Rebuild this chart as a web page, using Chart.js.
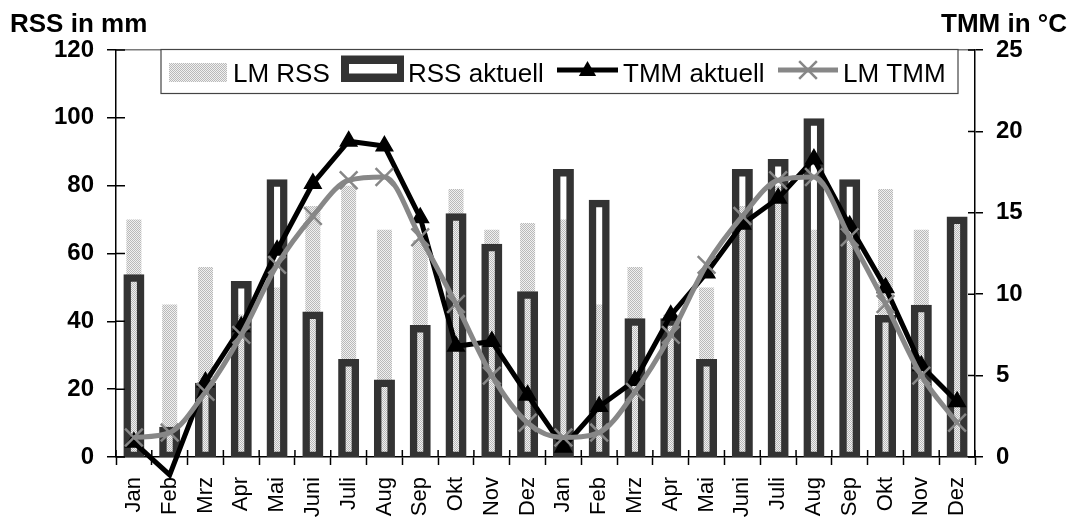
<!DOCTYPE html>
<html>
<head>
<meta charset="utf-8">
<script src="https://cdn.jsdelivr.net/npm/chart.js@4/dist/chart.umd.min.js"></script>
<style>
  html, body { margin: 0; padding: 0; background: #fff; }
  canvas { display: block; }
</style>
</head>
<body>
<canvas id="klima" width="1074" height="517"></canvas>
<script>
const monate = ['Jan', 'Feb', 'Mrz', 'Apr', 'Mai', 'Juni', 'Juli', 'Aug', 'Sep', 'Okt', 'Nov', 'Dez',
                'Jan', 'Feb', 'Mrz', 'Apr', 'Mai', 'Juni', 'Juli', 'Aug', 'Sep', 'Okt', 'Nov', 'Dez'];

// Niederschlag in mm
const lmRss      = [70, 45, 56, 42, 50, 74, 80, 67, 64, 79, 67, 69,
                    70, 45, 56, 42, 50, 74, 80, 67, 64, 79, 67, 69];
const rssAktuell = [53, 8, 21, 51, 81, 42, 28, 22, 38, 71, 62, 48,
                    84, 75, 40, 40, 28, 84, 87, 99, 81, 41, 44, 70];

// Temperatur in °C
const tmmAktuell = [0.9, -1.1, 4.6, 8.0, 12.7, 16.8, 19.4, 19.1, 14.7, 6.8, 7.1, 3.8,
                    0.6, 3.1, 4.7, 8.7, 11.3, 14.3, 15.9, 18.3, 14.2, 10.4, 5.6, 3.4];
const lmTmm      = [1.2, 1.5, 4.0, 7.5, 11.8, 14.8, 17.0, 17.2, 13.5, 9.4, 5.0, 2.1,
                    1.2, 1.5, 4.0, 7.5, 11.8, 14.8, 17.0, 17.2, 13.5, 9.4, 5.0, 2.1];

const schrift = '"Liberation Sans", Arial, sans-serif';
const grau = '#878787';
const rahmenFarbe = '#333333';

Chart.defaults.font.family = schrift;
Chart.defaults.color = '#000';

const canvas = document.getElementById('klima');
const ctx = canvas.getContext('2d');

// fein gepunktetes Raster fuer die LM-Balken
function punktMuster() {
    const c = document.createElement('canvas');
    c.width = 2;
    c.height = 2;
    const g = c.getContext('2d');
    g.fillStyle = '#f0f0f0';
    g.fillRect(0, 0, 2, 2);
    g.fillStyle = '#b9b9b9';
    g.fillRect(0, 0, 1, 1);
    g.fillRect(1, 1, 1, 1);
    return ctx.createPattern(c, 'repeat');
}
const muster = punktMuster();

function dreieck(g, x, y, r) {
    g.beginPath();
    g.moveTo(x, y - r);
    g.lineTo(x + r * 0.866, y + r / 2);
    g.lineTo(x - r * 0.866, y + r / 2);
    g.closePath();
    g.fill();
}

function kreuz(g, x, y, r) {
    const d = r * 0.707;
    g.beginPath();
    g.moveTo(x - d, y - d);
    g.lineTo(x + d, y + d);
    g.moveTo(x + d, y - d);
    g.lineTo(x - d, y + d);
    g.stroke();
}

// Innenstriche an den Achsen, Achsentitel und Legende im Kasten
const beschriftung = {
    id: 'beschriftung',
    afterDraw(chart) {
        const g = chart.ctx;
        const {x, y, y2} = chart.scales;
        g.save();

        g.strokeStyle = '#000';
        g.lineWidth = 1.5;
        g.beginPath();
        y.ticks.forEach((t, i) => {
            const p = y.getPixelForTick(i);
            g.moveTo(y.right, p);
            g.lineTo(y.right + 9, p);
        });
        y2.ticks.forEach((t, i) => {
            const p = y2.getPixelForTick(i);
            g.moveTo(y2.left, p);
            g.lineTo(y2.left - 7, p);
        });
        for (let i = 0; i <= monate.length; i++) {
            const p = x.getPixelForValue(i - 0.5);
            g.moveTo(p, x.top);
            g.lineTo(p, x.top - 7);
        }
        g.stroke();

        g.fillStyle = '#000';
        g.font = 'bold 26px ' + schrift;
        g.textBaseline = 'alphabetic';
        g.textAlign = 'left';
        g.fillText('RSS in mm', 10, 32);
        g.textAlign = 'right';
        g.fillText('TMM in °C', 1067, 32);

        // Legende
        g.fillStyle = '#fff';
        g.fillRect(161, 49.5, 797, 44);
        g.strokeStyle = '#444';
        g.lineWidth = 1.2;
        g.strokeRect(161, 49.5, 797, 44);

        g.fillStyle = muster;
        g.fillRect(169, 63, 58, 19);

        g.fillStyle = rahmenFarbe;
        g.fillRect(341, 55.5, 63, 26.5);
        g.fillStyle = '#fff';
        g.fillRect(349, 64, 48, 9.5);

        g.strokeStyle = '#000';
        g.lineWidth = 5;
        g.beginPath();
        g.moveTo(557, 70);
        g.lineTo(618, 70);
        g.stroke();
        g.fillStyle = '#000';
        dreieck(g, 587.5, 71, 10);

        g.strokeStyle = grau;
        g.beginPath();
        g.moveTo(778, 70);
        g.lineTo(838, 70);
        g.stroke();
        g.lineWidth = 2.5;
        kreuz(g, 808, 70, 12.5);

        g.fillStyle = '#000';
        g.font = '26px ' + schrift;
        g.textAlign = 'left';
        g.fillText('LM RSS', 233, 81.5);
        g.fillText('RSS aktuell', 408, 81.5);
        g.fillText('TMM aktuell', 623, 81.5);
        g.fillText('LM TMM', 843, 81.5);

        g.restore();
    }
};

new Chart(canvas, {
    type: 'bar',
    data: {
        labels: monate,
        datasets: [
            {
                type: 'line',
                label: 'LM TMM',
                data: lmTmm,
                yAxisID: 'y2',
                borderColor: grau,
                borderWidth: 5,
                cubicInterpolationMode: 'monotone',
                pointStyle: 'crossRot',
                pointRadius: 12.5,
                pointBorderColor: grau,
                pointBackgroundColor: grau,
                pointBorderWidth: 2.5,
                order: 1
            },
            {
                type: 'line',
                label: 'TMM aktuell',
                data: tmmAktuell,
                yAxisID: 'y2',
                borderColor: '#000',
                borderWidth: 5,
                tension: 0,
                pointStyle: 'triangle',
                pointRadius: c => c.raw < 0 ? 0 : 9.5,
                pointBackgroundColor: '#000',
                pointBorderColor: '#000',
                pointBorderWidth: 1.5,
                clip: false,
                order: 2
            },
            {
                type: 'bar',
                label: 'RSS aktuell',
                data: rssAktuell,
                yAxisID: 'y',
                backgroundColor: 'rgba(0,0,0,0)',
                borderColor: rahmenFarbe,
                borderWidth: 1.5,
                inflateAmount: 3,
                borderSkipped: false,
                grouped: false,
                barPercentage: 0.42,
                categoryPercentage: 1,
                clip: {left: false, right: false, top: false, bottom: 0},
                order: 3
            },
            {
                type: 'bar',
                label: 'LM RSS',
                data: lmRss,
                yAxisID: 'y',
                backgroundColor: muster,
                borderWidth: 0,
                grouped: false,
                barPercentage: 0.42,
                categoryPercentage: 1,
                order: 4
            }
        ]
    },
    options: {
        responsive: false,
        animation: false,
        devicePixelRatio: 1,
        layout: {padding: {top: 50, left: 0, right: 0, bottom: 0}},
        plugins: {
            legend: {display: false},
            tooltip: {enabled: false}
        },
        scales: {
            x: {
                offset: true,
                grid: {offset: true, drawOnChartArea: false, tickLength: 8, tickColor: '#000', tickWidth: 1.5},
                border: {color: '#000', width: 1.5},
                ticks: {autoSkip: false, minRotation: 90, maxRotation: 90, padding: 12, color: '#000', font: {size: 22}},
                afterFit: s => { s.height = 60; }
            },
            y: {
                position: 'left',
                min: 0,
                max: 120,
                ticks: {stepSize: 20, padding: 13, color: '#000', font: {size: 24, weight: 'bold'}},
                grid: {
                    color: c => (c.tick && c.tick.value === 120) ? '#7a7a7a' : 'rgba(0,0,0,0)',
                    tickColor: '#000',
                    tickLength: 9,
                    lineWidth: 1.5
                },
                border: {color: '#000', width: 1.5},
                afterFit: s => { s.width = 116; }
            },
            y2: {
                position: 'right',
                min: 0,
                max: 25,
                ticks: {stepSize: 5, padding: 13, color: '#000', font: {size: 24, weight: 'bold'}},
                grid: {drawOnChartArea: false, tickColor: '#000', tickLength: 8, lineWidth: 1.5},
                border: {color: '#000', width: 1.5},
                afterFit: s => { s.width = 99; }
            }
        }
    },
    plugins: [beschriftung]
});
</script>
</body>
</html>
